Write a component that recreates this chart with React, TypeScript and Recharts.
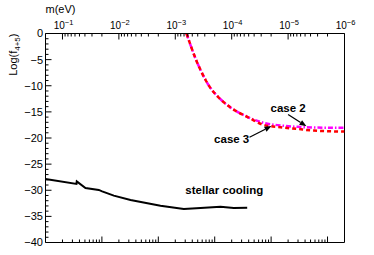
import React from 'react';
import { ComposedChart, Line, XAxis, YAxis, ReferenceLine, ReferenceDot } from 'recharts';

const FONT = 'Liberation Sans, Arial, Helvetica, sans-serif';

// stellar cooling (black solid)
const stellarM = [0.2, 0.0565, 0.0558, 0.0391, 0.0227, 0.0198, 0.0123, 6.22e-3, 1.83e-3, 7.06e-4, 3.57e-4, 1.58e-4, 9.18e-5, 5.31e-5];
const stellarY = [-27.83, -28.79, -28.3, -29.56, -29.94, -30.21, -31.03, -31.86, -32.95, -33.58, -33.39, -33.14, -33.39, -33.33];

// case 2 (magenta dash-dot)
const case2M = [6.32e-4, 5.37e-4, 4.38e-4, 3.57e-4, 2.92e-4, 2.38e-4, 1.81e-4, 1.38e-4, 1.05e-4, 7.48e-5, 5.31e-5, 2.7e-5, 1.36e-5, 6.9e-6, 3.5e-6, 1e-6];
const case2Y = [0, -2.22, -4.77, -6.97, -8.85, -10.42, -11.95, -13.16, -14.16, -15.13, -15.94, -17.1, -17.6, -17.87, -18.0, -18.06];

// case 3 (red dashed)
const case3M = [6.32e-4, 5.37e-4, 4.38e-4, 3.57e-4, 2.92e-4, 2.38e-4, 1.81e-4, 1.38e-4, 1.05e-4, 7.48e-5, 5.31e-5, 2.7e-5, 1.36e-5, 6.9e-6, 3.5e-6, 1e-6];
const case3Y = [0, -2.22, -4.77, -6.97, -8.85, -10.42, -11.95, -13.16, -14.16, -15.13, -15.94, -17.5, -17.95, -18.26, -18.58, -18.77];

// axes
const xDomain = [1e-6, 0.2];
const topMajorTicks = [1e-1, 1e-2, 1e-3, 1e-4, 1e-5, 1e-6];
const topMajorLabels = ['\u22121', '\u22122', '\u22123', '\u22124', '\u22125', '\u22126'];
const bottomMajorTicks = [2e-2, 2e-3, 2e-4, 2e-5, 2e-6];
const yMajorTicks = [0, -5, -10, -15, -20, -25, -30, -35, -40];

// annotations
const labelTexts = ['case 2', 'case 3', 'stellar cooling'];
const labelM = [1e-5, 1e-4, 1.35e-4];
const labelY = [-15.0, -21.0, -30.75];
const arrowFromM = [1e-5, 4.83e-5];
const arrowFromY = [-15.5, -19.87];
const arrowToM = [4.72e-6, 1.97e-5];
const arrowToY = [-17.76, -17.72];

const toPts = (ms: number[], ys: number[]) => ms.map((m, i) => ({ m, y: ys[i] }));
const stellar = toPts(stellarM, stellarY);
const case2 = toPts(case2M, case2Y);
const case3 = toPts(case3M, case3Y);

const topTicks: number[] = [...topMajorTicks];
for (let n = 2; n <= 6; n++) for (let k = 2; k <= 9; k++) topTicks.push(k * Math.pow(10, -n));
const bottomTicks: number[] = [...bottomMajorTicks];
for (let j = 0; j <= 4; j++) for (let k = 2; k <= 9; k++) bottomTicks.push((0.2 * Math.pow(10, -j)) / k);
const yTicks: number[] = [];
for (let v = 0; v >= -40; v--) yTicks.push(v);

const isIn = (arr: number[], v: number) => arr.some((a) => Math.abs(a - v) / a < 1e-6);

const TopTick = (props: any) => {
  const { x, y, payload } = props;
  const v = payload.value;
  const idx = topMajorTicks.findIndex((a) => Math.abs(a - v) / a < 1e-6);
  const major = idx >= 0;
  return (
    <g>
      <line x1={x} y1={y} x2={x} y2={y + (major ? 6 : 3)} stroke="#000" strokeWidth={1} />
      {major && (
        <text x={x + 1} y={y - 5} textAnchor="middle" fontFamily={FONT} fontSize={10} fill="#000">
          <tspan>10</tspan>
          <tspan dy={-4} fontSize={7.5}>{topMajorLabels[idx]}</tspan>
        </text>
      )}
    </g>
  );
};

const BottomTick = (props: any) => {
  const { x, y, payload } = props;
  const major = isIn(bottomMajorTicks, payload.value);
  return <line x1={x} y1={y} x2={x} y2={y - (major ? 6 : 3)} stroke="#000" strokeWidth={1} />;
};

const LeftTick = (props: any) => {
  const { x, y, payload } = props;
  const v = payload.value;
  const major = yMajorTicks.includes(v);
  return (
    <g>
      <line x1={x} y1={y} x2={x + (major ? 6 : 3)} y2={y} stroke="#000" strokeWidth={1} />
      {major && (
        <text x={x - 2.5} y={y} dy="0.36em" textAnchor="end" fontFamily={FONT} fontSize={11} fill="#000">
          {v === 0 ? '0' : '\u2212' + Math.abs(v)}
        </text>
      )}
    </g>
  );
};

const XTitle = (props: any) => {
  const vb = props.viewBox || { x: 45.5, y: 0 };
  return (
    <text x={vb.x} y={vb.y + 12.5} fontFamily={FONT} fontSize={11} fill="#000">
      m(eV)
    </text>
  );
};

const YTitle = (props: any) => {
  const vb = props.viewBox || { x: 0, y: 33.5 };
  const tx = vb.x + 17;
  const ty = vb.y;
  return (
    <text x={tx} y={ty} transform={`rotate(-90 ${tx} ${ty})`} textAnchor="end" fontFamily={FONT} fontSize={11} fill="#000">
      <tspan>Log(f</tspan>
      <tspan dy={3} fontSize={8}>4+5</tspan>
      <tspan dy={-3}>)</tspan>
    </text>
  );
};

const Arrow = (props: any) => {
  const { x1, y1, x2, y2 } = props;
  const a = Math.atan2(y2 - y1, x2 - x1);
  const L = 7;
  const W = 2.8;
  const bx = x2 - L * Math.cos(a);
  const by = y2 - L * Math.sin(a);
  const px = -Math.sin(a) * W;
  const py = Math.cos(a) * W;
  return (
    <g>
      <line x1={x1} y1={y1} x2={bx} y2={by} stroke="#000" strokeWidth={1.2} />
      <polygon points={`${x2},${y2} ${bx + px},${by + py} ${bx - px},${by - py}`} fill="#000" />
    </g>
  );
};

export default function App() {
  return (
    <div style={{ position: 'absolute', left: 0, top: 0, width: 374, height: 255, background: '#fff' }}>
      <ComposedChart width={374} height={255} margin={{ top: 0, left: 0, right: 29.5, bottom: 0 }}>
        <XAxis
          xAxisId="top"
          orientation="top"
          dataKey="m"
          type="number"
          scale="log"
          reversed
          domain={xDomain}
          allowDataOverflow
          ticks={topTicks}
          interval={0}
          height={33.5}
          tickSize={0}
          tickMargin={0}
          tickLine={false}
          axisLine={{ stroke: '#000', strokeWidth: 1 }}
          tick={TopTick}
          label={XTitle}
        />
        <XAxis
          xAxisId="bottom"
          orientation="bottom"
          dataKey="m"
          type="number"
          scale="log"
          reversed
          domain={xDomain}
          allowDataOverflow
          ticks={bottomTicks}
          interval={0}
          height={12.5}
          tickSize={0}
          tickMargin={0}
          tickLine={false}
          axisLine={{ stroke: '#000', strokeWidth: 1 }}
          tick={BottomTick}
        />
        <YAxis
          yAxisId="left"
          type="number"
          domain={[-40, 0]}
          allowDataOverflow
          ticks={yTicks}
          interval={0}
          width={45.5}
          tickSize={0}
          tickMargin={0}
          tickLine={false}
          axisLine={{ stroke: '#000', strokeWidth: 1 }}
          tick={LeftTick}
          label={YTitle}
        />
        <ReferenceLine xAxisId="top" yAxisId="left" x={1e-6} stroke="#000" strokeWidth={1} ifOverflow="visible" />
        <Line
          xAxisId="top"
          yAxisId="left"
          data={stellar}
          dataKey="y"
          type="linear"
          stroke="#000"
          strokeWidth={2}
          dot={false}
          isAnimationActive={false}
        />
        <Line
          xAxisId="top"
          yAxisId="left"
          data={case2}
          dataKey="y"
          type="monotone"
          stroke="#ff00ff"
          strokeWidth={2.5}
          strokeDasharray="5 2 1.5 2"
          dot={false}
          isAnimationActive={false}
        />
        <Line
          xAxisId="top"
          yAxisId="left"
          data={case3}
          dataKey="y"
          type="monotone"
          stroke="#ff0000"
          strokeWidth={2.5}
          strokeDasharray="4 3"
          dot={false}
          isAnimationActive={false}
        />
        {arrowFromM.map((m, i) => (
          <ReferenceLine
            key={'ar' + i}
            xAxisId="top"
            yAxisId="left"
            segment={[
              { x: m, y: arrowFromY[i] },
              { x: arrowToM[i], y: arrowToY[i] },
            ]}
            ifOverflow="visible"
            shape={Arrow}
          />
        ))}
        {labelTexts.map((t, i) => (
          <ReferenceDot
            key={'lb' + i}
            xAxisId="top"
            yAxisId="left"
            x={labelM[i]}
            y={labelY[i]}
            r={0}
            ifOverflow="visible"
            shape={(p: any) => (
              <text x={p.cx} y={p.cy} textAnchor="middle" fontFamily={FONT} fontWeight="bold" fontSize={11.5} fill="#000">
                {t}
              </text>
            )}
          />
        ))}
      </ComposedChart>
    </div>
  );
}
